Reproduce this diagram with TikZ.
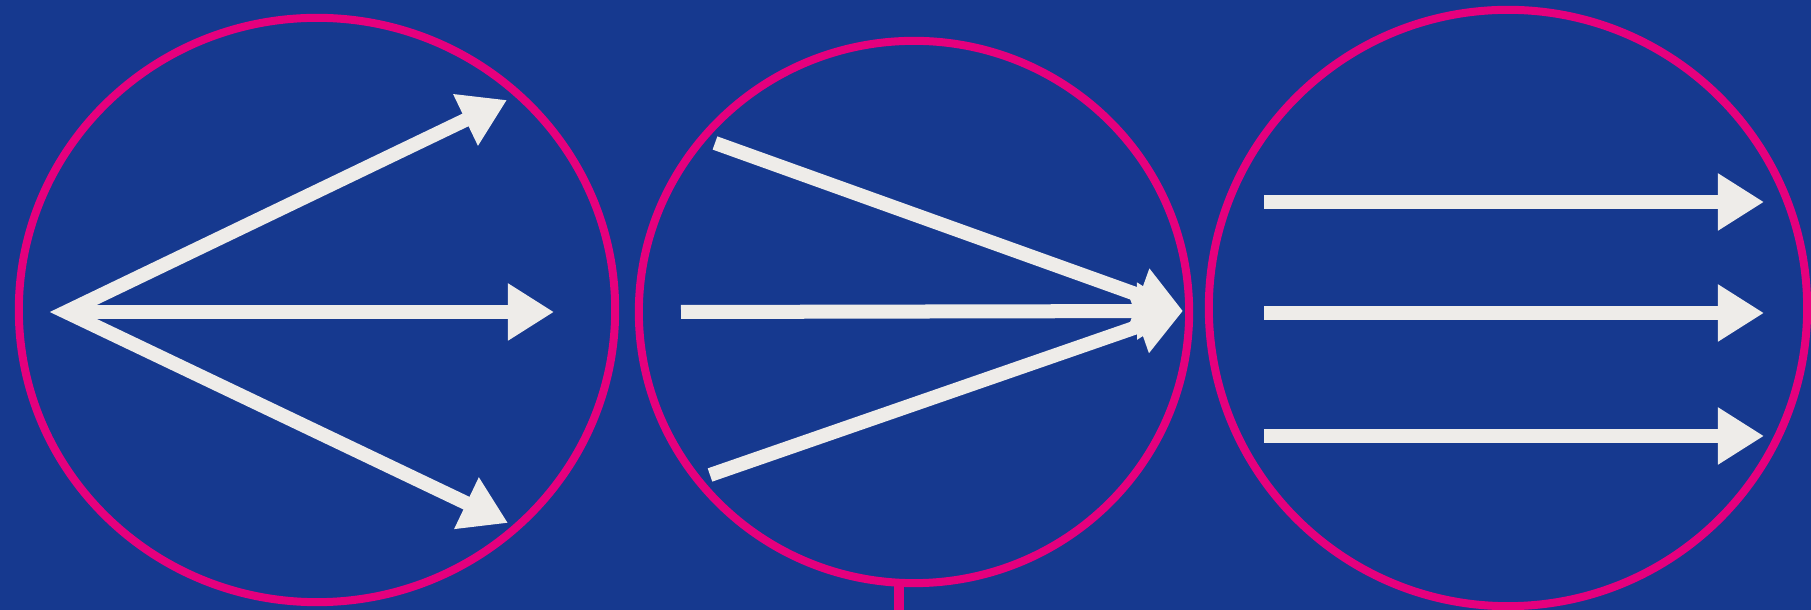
\documentclass[tikz,border=0pt]{standalone}
\usetikzlibrary{arrows.meta, shapes.geometric}
\definecolor{bgblue}{RGB}{22,57,143}
\definecolor{ringpink}{RGB}{229,0,125}
\definecolor{arrowwhite}{RGB}{238,236,233}

\begin{document}
\begin{tikzpicture}[
    x=0.01cm, y=-0.01cm,
    ring/.style={ellipse, draw=ringpink, line width=0.08cm, inner sep=0pt},
    arr/.style={-{Triangle[length=0.46cm, width=0.54cm]}, line width=0.14cm,
                draw=arrowwhite, line join=miter},
    stem/.style={draw=ringpink, line width=0.1cm}
]
\path[use as bounding box, fill=bgblue] (0,0) rectangle (1811,610);
\clip (0,0) rectangle (1811,610);

% the three rings
\node[ring, minimum width=5.96cm, minimum height=5.84cm] (c1) at (317,310) {};
\node[ring, minimum width=5.50cm, minimum height=5.42cm] (c2) at (914,312) {};
\node[ring, minimum width=5.98cm, minimum height=5.96cm] (c3) at (1508,308) {};

% stem under the middle ring
\coordinate (s1) at (899,583);
\coordinate (s2) at (899,615);
\draw[stem] (s1) -- (s2);

% ring 1: spreading out
\coordinate (o1) at (66,312);
\coordinate (t1) at (507,100);
\coordinate (m1) at (554,312);
\coordinate (b1) at (508,523);
\draw[arr, {Triangle[length=0.46cm, width=0.54cm]}-{Triangle[length=0.46cm, width=0.54cm]}]
    (t1) -- (o1) -- (b1);
\draw[arr] (o1) -- (m1);

% ring 2: coming together
\coordinate (t2) at (715,143);
\coordinate (m2) at (681,312);
\coordinate (b2) at (710,475);
\coordinate (e2) at (1183,311);
\draw[arr] (t2) -- (e2);
\draw[arr] (m2) -- (e2);
\draw[arr] (b2) -- (e2);

% ring 3: side by side
\foreach \name/\y in {t/202, m/313, b/436} {
    \coordinate (\name3s) at (1264,\y);
    \coordinate (\name3e) at (1764,\y);
    \draw[arr] (\name3s) -- (\name3e);
}
\end{tikzpicture}
\end{document}
